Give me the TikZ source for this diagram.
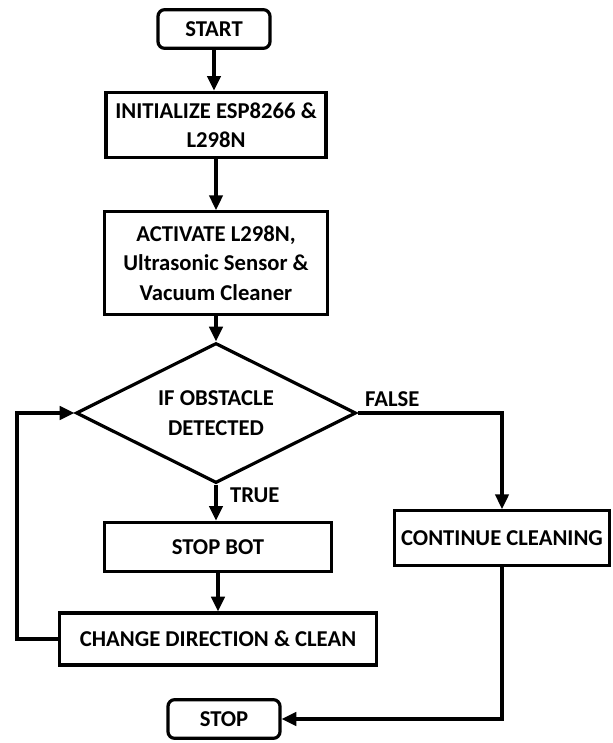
\documentclass[tikz,border=0pt]{standalone}
\usepackage{fontspec}
\setmainfont{Carlito}
\usetikzlibrary{arrows.meta,shapes.geometric}
\tikzset{>={Triangle[length=11pt,width=10pt]}}

\begin{document}
\begin{tikzpicture}[x=0.75pt,y=-0.75pt,line width=2.4pt,
  every node/.style={font=\fontsize{17}{22}\selectfont\bfseries},
  terminal/.style={draw,rounded corners=5pt,minimum width=84pt,minimum height=29pt},
  process/.style={draw,align=center,inner sep=2pt},
  decision/.style={draw,diamond,aspect=2,align=center,inner sep=0pt,
    minimum width=210pt,minimum height=105pt}]
\useasboundingbox (0,0) rectangle (612,743);

% Main column
\node[terminal] (start) at (214,29) {START};
\node[process,minimum width=165pt,minimum height=49pt] (init) at (216,125)
  {INITIALIZE ESP8266 \&\\L298N};
\node[process,minimum width=167pt,minimum height=77pt] (act) at (216,263)
  {ACTIVATE L298N,\\Ultrasonic Sensor \&\\Vacuum Cleaner};
\node[decision] (dec) at (216,413) {IF OBSTACLE\\DETECTED};
\node[process,minimum width=170pt,minimum height=37pt] (stopbot) at (218,547) {STOP BOT};
\node[process,minimum width=238pt,minimum height=39pt] (change) at (218,639)
  {CHANGE DIRECTION \& CLEAN};
\node[terminal] (stop) at (224,719) {STOP};

% Right branch
\node[process,minimum width=161pt,minimum height=41pt] (cont) at (502,538)
  {CONTINUE CLEANING};

% Connectors
\draw[->] (start) -- (start |- init.north);
\draw[->] (init) -- (act);
\draw[->] (act) -- (dec);
\draw[->] (dec) -- node[pos=.3,right,xshift=6pt] {TRUE} (dec |- stopbot.north);
\draw[->] (stopbot) -- (change);
\coordinate (back) at (17,639);
\draw[->] (change) -- (back) |- (dec);
\draw[->] (dec) -| node[pos=.12,above] {FALSE} (cont);
\draw[->] (cont) |- (stop);
\end{tikzpicture}
\end{document}
